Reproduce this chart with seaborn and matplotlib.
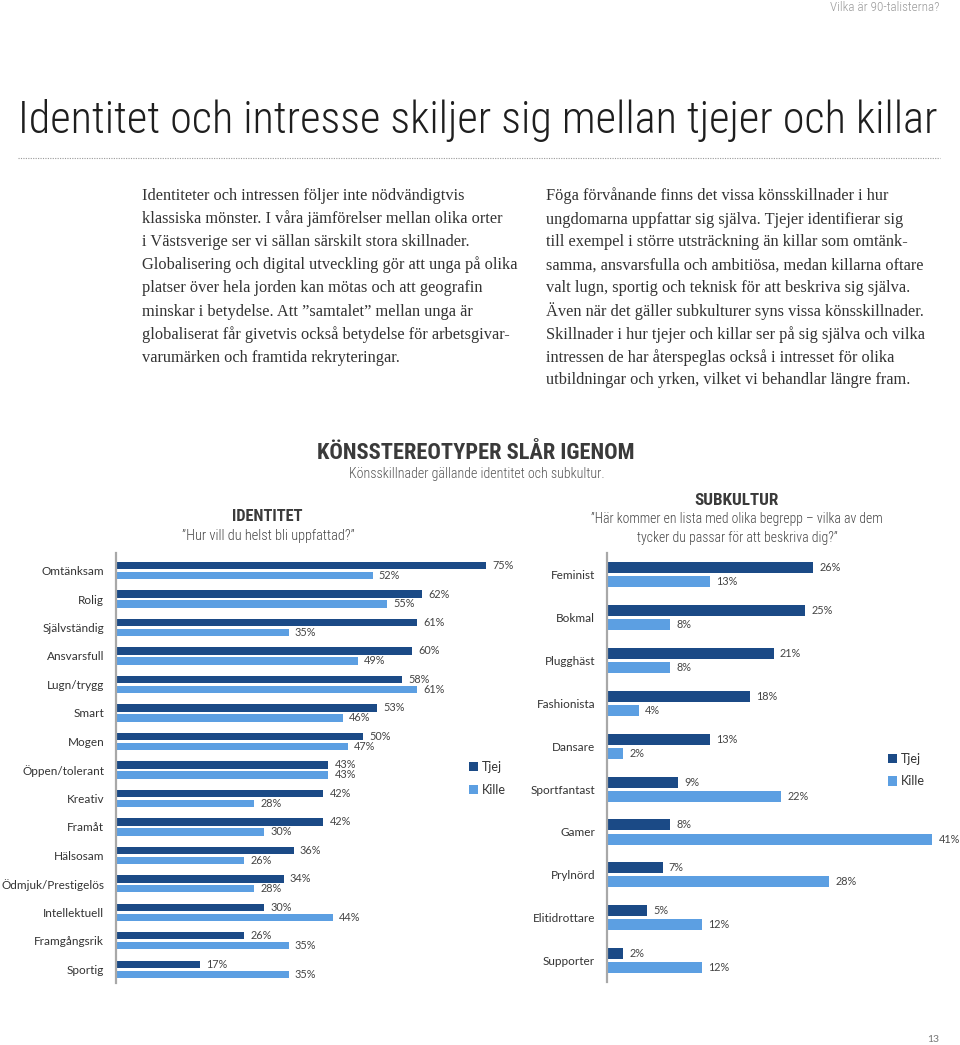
import matplotlib
matplotlib.use("Agg")
import matplotlib.pyplot as plt
import seaborn as sns
import pandas as pd
from matplotlib import font_manager as fm
from matplotlib.lines import Line2D

# ---------------- data ----------------
series_names = ["Tjej", "Kille"]

identity_labels = ["Omtänksam", "Rolig", "Självständig", "Ansvarsfull", "Lugn/trygg",
                   "Smart", "Mogen", "Öppen/tolerant", "Kreativ", "Framåt", "Hälsosam",
                   "Ödmjuk/Prestigelös", "Intellektuell", "Framgångsrik", "Sportig"]
identity_tjej = [75, 62, 61, 60, 58, 53, 50, 43, 42, 42, 36, 34, 30, 26, 17]
identity_kille = [52, 55, 35, 49, 61, 46, 47, 43, 28, 30, 26, 28, 44, 35, 35]

sub_labels = ["Feminist", "Bokmal", "Plugghäst", "Fashionista", "Dansare",
              "Sportfantast", "Gamer", "Prylnörd", "Elitidrottare", "Supporter"]
sub_tjej = [26, 25, 21, 18, 13, 9, 8, 7, 5, 2]
sub_kille = [13, 8, 8, 4, 2, 22, 41, 28, 12, 12]

page_header = "Vilka är 90-talisterna?"
page_title = "Identitet och intresse skiljer sig mellan tjejer och killar"
left_lines = [
    "Identiteter och intressen följer inte nödvändigtvis",
    "klassiska mönster. I våra jämförelser mellan olika orter",
    "i Västsverige ser vi sällan särskilt stora skillnader.",
    "Globalisering och digital utveckling gör att unga på olika",
    "platser över hela jorden kan mötas och att geografin",
    "minskar i betydelse. Att ”samtalet” mellan unga är",
    "globaliserat får givetvis också betydelse för arbetsgivar-",
    "varumärken och framtida rekryteringar.",
]
right_lines = [
    "Föga förvånande finns det vissa könsskillnader i hur",
    "ungdomarna uppfattar sig själva. Tjejer identifierar sig",
    "till exempel i större utsträckning än killar som omtänk-",
    "samma, ansvarsfulla och ambitiösa, medan killarna oftare",
    "valt lugn, sportig och teknisk för att beskriva sig själva.",
    "Även när det gäller subkulturer syns vissa könsskillnader.",
    "Skillnader i hur tjejer och killar ser på sig själva och vilka",
    "intressen de har återspeglas också i intresset för olika",
    "utbildningar och yrken, vilket vi behandlar längre fram.",
]
chart_title = "KÖNSSTEREOTYPER SLÅR IGENOM"
chart_subtitle = "Könsskillnader gällande identitet och subkultur."
left_head = "IDENTITET"
left_q = "”Hur vill du helst bli uppfattad?”"
right_head = "SUBKULTUR"
right_q1 = "”Här kommer en lista med olika begrepp – vilka av dem"
right_q2 = "tycker du passar för att beskriva dig?”"
page_no = "13"

# ---------------- style ----------------
W, H = 960, 1045
sns.set_style("white")
avail = {f.name for f in fm.fontManager.ttflist}


def pick(*names):
    for n in names:
        if n in avail:
            return n
    return "DejaVu Sans"


SANS = pick("Lato", "Open Sans", "Noto Sans", "DejaVu Sans")
NARROW = pick("Roboto Condensed", "Liberation Sans Narrow", "Open Sans Condensed", "Liberation Sans")
SERIF = pick("Liberation Serif", "DejaVu Serif")
plt.rcParams["font.family"] = [SANS, "DejaVu Sans"]

DARK = "#1b4a86"
LIGHT = "#5c9fe2"
TEXT = "#333333"
VAL = "#444444"

fig = plt.figure(figsize=(W / 100, H / 100), dpi=100)
fig.patch.set_facecolor("white")
renderer = fig.canvas.get_renderer()


def fx(x):
    return x / W


def fy(y):
    return 1 - y / H


def fit_text(x, y, s, width, ha="left", **kw):
    t = fig.text(fx(x), fy(y), s, ha=ha, va="baseline", **kw)
    bb = t.get_window_extent(renderer)
    t.set_fontsize(t.get_fontsize() * width / bb.width)
    return t


def make_df(labels, a, b):
    return pd.DataFrame({
        "label": labels * 2,
        "group": [series_names[0]] * len(labels) + [series_names[1]] * len(labels),
        "value": a + b,
    })


def draw(ax, df, labels, width, gap, xmax, ylim, legend_xy):
    sns.barplot(data=df, y="label", x="value", hue="group", hue_order=series_names,
                order=labels, palette=[DARK, LIGHT], orient="h", width=width, gap=gap,
                saturation=1, linewidth=0, errorbar=None, ax=ax, legend=True)
    ax.set_xlim(0, xmax)
    ax.set_ylim(*ylim)
    ax.set_xlabel("")
    ax.set_ylabel("")
    ax.set_xticks([])
    for s in ["top", "right", "bottom"]:
        ax.spines[s].set_visible(False)
    ax.spines["left"].set_color("#a8a8a8")
    ax.spines["left"].set_linewidth(1.6)
    ax.tick_params(axis="y", length=0, pad=8.5, labelsize=8.5, labelcolor=TEXT)
    ax.set_facecolor("none")
    for c in ax.containers:
        ax.bar_label(c, fmt="{:.0f}%", padding=4.5, fontsize=7.8, color=VAL)
    sns.move_legend(ax, "center left", bbox_to_anchor=(fx(legend_xy[0]), fy(legend_xy[1])),
                    bbox_transform=fig.transFigure, frameon=False, title=None, fontsize=9,
                    handlelength=0.75, handleheight=0.75, handletextpad=0.3,
                    labelspacing=0.85, borderpad=0, borderaxespad=0)
    for t in ax.get_legend().get_texts():
        t.set_color(TEXT)


# left chart: identity
ax1 = fig.add_axes([fx(116), fy(983), 419.3 / W, 430 / H])
draw(ax1, make_df(identity_labels, identity_tjej, identity_kille), identity_labels,
     width=0.70, gap=0.27, xmax=85, ylim=(14.48, -0.615), legend_xy=(469, 778.5))

# right chart: subculture
ax2 = fig.add_axes([fx(607), fy(982), 348.9 / W, 429 / H])
draw(ax2, make_df(sub_labels, sub_tjej, sub_kille), sub_labels,
     width=0.66, gap=0.22, xmax=44, ylim=(9.5, -0.51), legend_xy=(888, 770))

# ---------------- page text ----------------
fit_text(940, 11, page_header, 110, ha="right", family=NARROW, weight="light", color="#9a9a9a")
fit_text(18, 133, page_title, 920, family=NARROW, weight="light", color="#1e1e1e")
fig.add_artist(Line2D([fx(18), fx(940)], [fy(158), fy(158)], color="#9a9a9a",
                      linestyle=(0, (1, 1.2)), linewidth=0.8))

tb = fit_text(142, 200 + 3 * 23.1, left_lines[3], 374, family=SERIF, color=TEXT)
body_size = tb.get_fontsize()
for i, line in enumerate(left_lines):
    if i == 3:
        continue
    fig.text(fx(142), fy(200 + i * 23.1), line, ha="left", va="baseline",
             family=SERIF, fontsize=body_size, color=TEXT)
for i, line in enumerate(right_lines):
    fig.text(fx(546), fy(200.5 + i * 23.0), line, ha="left", va="baseline",
             family=SERIF, fontsize=body_size, color=TEXT)

fit_text(476, 459, chart_title, 316, ha="center", family=NARROW, weight="bold", color="#3a3a3a")
fit_text(477, 478, chart_subtitle, 256, ha="center", family=NARROW, weight="light", color="#555555")
fit_text(267, 521, left_head, 71, ha="center", family=NARROW, weight="bold", color="#3a3a3a")
fit_text(268, 540, left_q, 173, ha="center", family=NARROW, weight="light", color="#444444")
fit_text(737, 505, right_head, 84, ha="center", family=NARROW, weight="bold", color="#3a3a3a")
fit_text(737, 523, right_q1, 290, ha="center", family=NARROW, weight="light", color="#444444")
fit_text(737, 542, right_q2, 200, ha="center", family=NARROW, weight="light", color="#444444")
fig.text(fx(933), fy(1042), page_no, ha="center", va="baseline", fontsize=7.5,
         color="#777777", family=SANS)

fig.savefig("out.png", dpi=100, facecolor="white")
